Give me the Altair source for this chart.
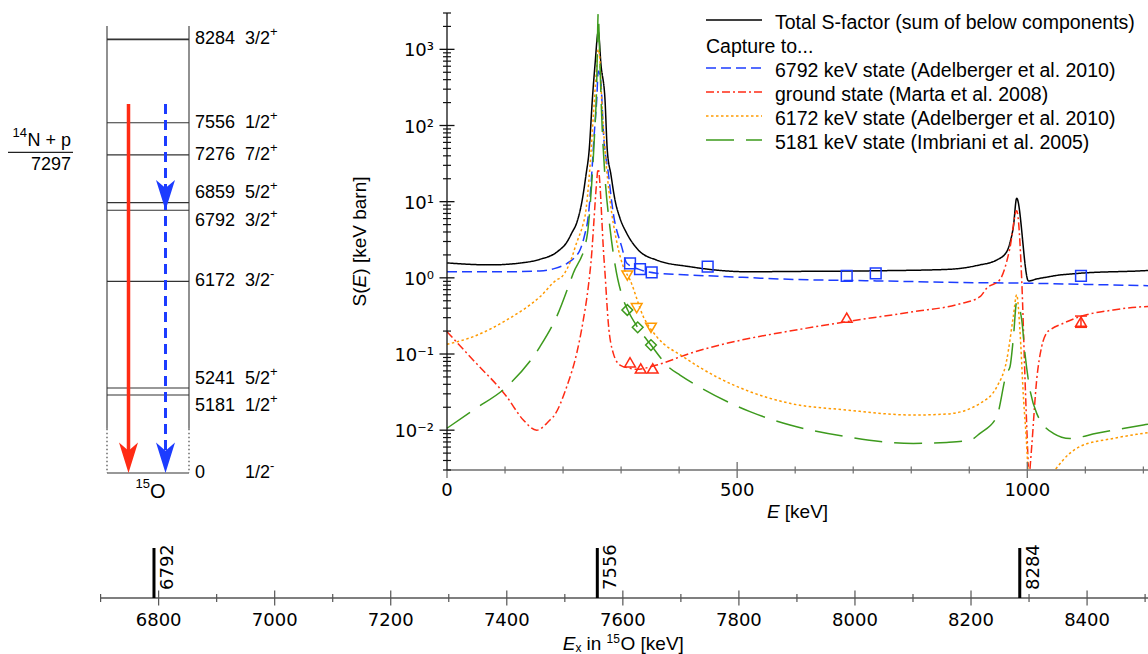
import altair as alt
import pandas as pd

# ------------------------------------------------------------------ data
# S-factor curves: E [keV], S [keV barn].
# None marks a break (zero crossing of an interference term).
series_keys = ["total", "c6792", "c0", "c6172", "c5181"]
series_colors = ["#000000", "#1c3cff", "#ff2b14", "#ff9a00", "#3d9a1d"]
series_dash = [[1, 0], [10, 5], [8, 3, 2, 3], [2.5, 2.5], [28, 12]]

total_E = [0, 74, 131, 160, 190, 207, 215, 224, 233, 239.5, 245, 250.4, 255, 260.7,
           265.4, 272.3, 276.2, 282.6, 289.5, 298, 309.7, 329.7, 361.4, 418.7, 522,
           574, 746, 861, 884, 918.5, 941, 947, 964.5, 970, 976, 981.7, 1002, 1016,
           1033, 1056, 1073.6, 1091, 1200, 1208]
total_S = [1.57, 1.48, 1.58, 1.75, 2.20, 2.98, 3.88, 5.41, 10.5, 22.4, 47.6, 216, 622, 1704,
           622, 216, 47.6, 22.4, 10.5, 6.1, 3.85, 2.32, 1.71, 1.40, 1.20,
           1.21, 1.24, 1.29, 1.33, 1.48, 1.63, 1.71, 2.20, 2.87, 4.69, 11.1, 0.91, 0.966,
           1.02, 1.09, 1.12, 1.15, 1.24, 1.25]

c6792_E = [0, 100, 160, 186, 207, 220, 229, 237, 243.5, 248, 253.8, 258, 260.6, 263, 265.4,
           269.3, 278, 286.6, 301, 310, 330, 361, 419, 522, 574, 746, 918.5, 1000, 1100, 1208]
c6792_S = [1.20, 1.20, 1.23, 1.33, 1.55, 1.85, 2.3, 3.6, 6.5, 16, 79, 216, 520, 480, 358,
           87, 23.6, 7.0, 2.57, 1.55, 1.30, 1.15, 1.09, 1.005, 0.966, 0.91, 0.863, 0.85, 0.82, 0.79]

c0_E = [0, 45.3, 102.9, 131.5, 154.6, 177.5, 183.2, 206.3, 223.5, 234.9, 243.5, 249.4, 253.3,
        257, 260.6, 264, 266.6, 269.3, 272.3, 278, 286.6, 298.1, 315.4, 326.9, 361.4, 418.7,
        522.1, 573.8, 688.8, 803.5, 886, 918.5, 930, 953, 970, 981.7, 990.4, 996.1, 1001.7,
        None, 1004.6, 1007.6, 1016.2, 1024.8, 1033.4, 1039.1, 1062, 1090.8, 1148.2, 1200, 1208]
c0_S = [0.196, 0.083, 0.0275, 0.0136, 0.0100, 0.0136, 0.015, 0.0372, 0.102, 0.28, 0.766, 2.10,
        5.74, 15, 27, 15, 6.3, 2.5, 1.15, 0.253, 0.102, 0.0717, 0.0649, 0.063, 0.0717, 0.102,
        0.161, 0.19, 0.266, 0.359, 0.46, 0.565, 0.73, 0.95, 2.45, 7.6, 0.94, 0.046, 0.0033,
        None, 0.0031, 0.0061, 0.046, 0.125, 0.19, 0.207, 0.253, 0.31, 0.378, 0.418, 0.42]

c6172_E = [0, 45.3, 102.9, 160.3, 189, 197.7, 217.6, 220.6, 234.9, 237.8, 246.4, 252.1, 258,
           260.6, 263, 266.6, 272.3, 280.9, 292.4, 303.8, 315.4, 338.3, 361.4, 407.2, 464.8,
           522.1, 591, 688.8, 803.5, 861, 918.5, 947.3, 964.5, 975.9, 981.7, 987.4, 993, 999.5,
           1001, None, 1049, 1073.6, 1090.8, 1148.2, 1200, 1208]
c6172_S = [0.134, 0.169, 0.28, 0.565, 0.94, 1.03, 2.1, 2.5, 5.2, 6.4, 29, 131, 590,
           1000, 800, 216, 47.6, 10.5, 3.0, 1.4, 0.94, 0.31, 0.169, 0.092, 0.05,
           0.032, 0.0225, 0.0184, 0.0158, 0.0163, 0.0225, 0.037, 0.083, 0.31, 0.6, 0.2, 0.03, 0.0053,
           0.0031, None, 0.0031, 0.005, 0.0061, 0.0078, 0.0091, 0.0093]

c5181_E = [0, 45.3, 102.9, 160.3, 189, 217.6, 240.7, 249.4, 253.8, 258, 260.6, 263, 266.6,
           272.3, 280.9, 289.5, 303.8, 311.4, 328.6, 351.5, 384.3, 401.5, 522.1, 591.1, 688.8,
           803.5, 861.1, 901.3, 918.5, 947.3, 964.5, 970.2, 975.9, 981.7, 990.4, 996.1, 1001.7,
           1016.2, 1044.8, 1073.6, 1119.6, 1200, 1208]
c5181_S = [0.0106, 0.0184, 0.0372, 0.125, 0.31, 1.148, 3.3, 17.4, 65, 358, 2990, 900, 131,
           21, 4.5, 1.5, 0.52, 0.378, 0.224, 0.131, 0.065, 0.053, 0.0175, 0.0117, 0.0082,
           0.0067, 0.0069, 0.0074, 0.0091, 0.015, 0.056, 0.068, 0.16, 0.48, 0.28, 0.1, 0.046,
           0.0166, 0.0091, 0.0078, 0.0091, 0.0117, 0.012]

# measured points
p6792_E = [315.4, 332.6, 352.7, 449.2, 688.8, 738.8, 1092.5]
p6792_S = [1.55, 1.30, 1.18, 1.40, 1.06, 1.148, 1.06]
p6172_E = [310.7, 326.9, 351.5]
p6172_S = [1.07, 0.40, 0.221]
p5181_E = [310.7, 328.6, 351.5]
p5181_S = [0.378, 0.224, 0.131]
p0_E = [315.4, 333.8, 354.5, 688.8, 1092.5]
p0_S = [0.0778, 0.0646, 0.0646, 0.30, 0.266]
err_E = [1092.5]
err_lo = [0.224]
err_hi = [0.315]

# legend
legend_keys = ["total", "c6792", "c0", "c6172", "c5181"]
legend_texts = ["Total S-factor (sum of below components)",
                "6792 keV state (Adelberger et al. 2010)",
                "ground state (Marta et al. 2008)",
                "6172 keV state (Adelberger et al. 2010)",
                "5181 keV state (Imbriani et al. 2005)"]
legend_rows = [0, 2, 3, 4, 5]

# main axes
x_major = [0, 500, 1000]
x_minor = [100, 200, 300, 400, 600, 700, 800, 900, 1100, 1200]
y_major = [0.01, 0.1, 1, 10, 100, 1000]
y_major_labels = ["10\u207b\u00b2", "10\u207b\u00b9", "10\u2070", "10\u00b9", "10\u00b2", "10\u00b3"]
y_minor = [m * 10.0 ** d for d in range(-3, 4) for m in range(2, 10)
           if 0.003 <= m * 10.0 ** d <= 3000]

# level scheme of 15O
level_E = [8284, 7556, 7276, 6859, 6792, 6172, 5241, 5181, 0]
level_J = ["3/2", "1/2", "7/2", "5/2", "3/2", "3/2", "5/2", "1/2", "1/2"]
level_P = ["+", "+", "+", "+", "+", "-", "+", "+", "-"]
threshold_E = 7297
arrow_from_E = 7720
red_arrow_to = [0]
blue_arrow_to = [6792, 0]

# excitation-energy axis
ex_major = [6800, 7000, 7200, 7400, 7600, 7800, 8000, 8200, 8400]
ex_minor = [6700, 6900, 7100, 7300, 7500, 7700, 7900, 8100, 8300, 8500]
ex_marks = [6792, 7556, 8284]

# ------------------------------------------------------------------ tables
curve_rows = []
for key, Es, Ss in zip(series_keys,
                       [total_E, c6792_E, c0_E, c6172_E, c5181_E],
                       [total_S, c6792_S, c0_S, c6172_S, c5181_S]):
    assert len(Es) == len(Ss), key
    seg = 0
    for e, s in zip(Es, Ss):
        if e is None:
            seg += 1
            continue
        curve_rows.append({"series": key, "seg": f"{key}-{seg}", "E": e, "S": s})
curves = pd.DataFrame(curve_rows)

pt_rows = []
for key, Es, Ss in [("c6792", p6792_E, p6792_S), ("c6172", p6172_E, p6172_S),
                    ("c5181", p5181_E, p5181_S), ("c0", p0_E, p0_S)]:
    for e, s in zip(Es, Ss):
        pt_rows.append({"series": key, "E": e, "S": s})
points = pd.DataFrame(pt_rows)
err = pd.DataFrame({"E": err_E, "lo": err_lo, "hi": err_hi})

one = pd.DataFrame({"k": [0]})

GROUND_DRAWN_AT = 4500  # broken axis: ground state drawn below 5181
levels = pd.DataFrame({"E": level_E, "J": level_J, "P": level_P})
levels["Ey"] = [e if e > 0 else GROUND_DRAWN_AT for e in level_E]
levels["lab"] = [str(e) for e in level_E]
red_heads = pd.DataFrame({"Ey": [e if e > 0 else GROUND_DRAWN_AT for e in red_arrow_to]})
blue_heads = pd.DataFrame({"Ey": [e if e > 0 else GROUND_DRAWN_AT for e in blue_arrow_to]})

# ------------------------------------------------------------------ scales
XM = alt.Scale(domain=[0, 1208], range=[447, 1148], nice=False, zero=False)
YM = alt.Scale(type="log", domain=[0.003, 3000], range=[470, 13], nice=False)
YL = alt.Scale(domain=[4500, 8400], range=[473, 26], nice=False, zero=False)
XB = alt.Scale(domain=[6700, 8505], range=[100.6, 1148], nice=False, zero=False)
YR = alt.Scale(domain=[0, 5], range=[20, 140], nice=False, zero=False)
COLOR = alt.Scale(domain=series_keys, range=series_colors)
DASH = alt.Scale(domain=series_keys, range=series_dash)

RED = "#ff2b14"
BLUE = "#1c3cff"
SANS = "Liberation Sans"
DV = "DejaVu Sans"


def xm(f):
    return alt.X(f, type="quantitative", scale=XM, axis=None)


def ym(f):
    return alt.Y(f, type="quantitative", scale=YM, axis=None)


def xmd(v):
    return alt.XDatum(v, type="quantitative", scale=XM, axis=None)


def ymd(v):
    return alt.YDatum(v, type="quantitative", scale=YM, axis=None)


def yl(f):
    return alt.Y(f, type="quantitative", scale=YL, axis=None)


def yld(v):
    return alt.YDatum(v, type="quantitative", scale=YL, axis=None)


def xb(f):
    return alt.X(f, type="quantitative", scale=XB, axis=None)


# ------------------------------------------------------------------ main plot
lines = alt.Chart(curves).mark_line(strokeWidth=1.5, interpolate="monotone").encode(
    x=xm("E"), y=ym("S"),
    color=alt.Color("series:N", scale=COLOR, legend=None),
    strokeDash=alt.StrokeDash("series:N", scale=DASH, legend=None),
    detail="seg:N",
)
markers = alt.Chart(points).mark_point(filled=False, size=115, strokeWidth=1.5, opacity=1).encode(
    x=xm("E"), y=ym("S"),
    color=alt.Color("series:N", scale=COLOR, legend=None),
    shape=alt.Shape("series:N", scale=alt.Scale(domain=["c6792", "c6172", "c5181", "c0"],
                                                range=["square", "triangle-down", "diamond", "triangle-up"]),
                    legend=None),
)
err_rule = alt.Chart(err).mark_rule(color=RED, strokeWidth=1.5).encode(
    x=xm("E"), y=ym("lo"), y2="hi")
err_caps = alt.Chart(err).transform_fold(["lo", "hi"], as_=["k", "v"]).mark_tick(
    orient="horizontal", size=12, thickness=1.5, color=RED, opacity=1).encode(x=xm("E"), y=ym("v"))

x_line = alt.Chart(one).mark_rule(color="#6e6e6e", strokeWidth=1.3).encode(
    x=xmd(0), x2=alt.X2Datum(1208), y=ymd(0.003))
y_line = alt.Chart(one).mark_rule(color="#111111", strokeWidth=1.3).encode(
    x=xmd(0), y=ymd(0.003), y2=alt.Y2Datum(3000))
xmaj_df = pd.DataFrame({"v": x_major})
xmin_df = pd.DataFrame({"v": x_minor})
ymaj_df = pd.DataFrame({"v": y_major, "lab": y_major_labels})
ymin_df = pd.DataFrame({"v": y_minor})
x_maj_ticks = alt.Chart(xmaj_df).mark_tick(orient="vertical", size=16, thickness=1.3,
                                           color="#6e6e6e", opacity=1).encode(x=xm("v"), y=ymd(0.003))
x_min_ticks = alt.Chart(xmin_df).mark_tick(orient="vertical", size=7, thickness=1.2,
                                           color="#6e6e6e", opacity=1).encode(x=xm("v"), y=ymd(0.003))
x_labels = alt.Chart(xmaj_df).mark_text(font=DV, fontSize=18, baseline="middle", dy=21,
                                        color="black").encode(x=xm("v"), y=ymd(0.003), text="v:Q")
y_maj_ticks = alt.Chart(ymaj_df).mark_tick(orient="horizontal", size=15, thickness=1.3,
                                           color="#111111", opacity=1).encode(x=xmd(0), y=ym("v"))
y_min_ticks = alt.Chart(ymin_df).mark_tick(orient="horizontal", size=8, thickness=1.2,
                                           color="#111111", opacity=1).encode(x=xmd(0), y=ym("v"))
y_labels = alt.Chart(ymaj_df).mark_text(font=DV, fontSize=18, baseline="middle", align="right",
                                        dx=-13, dy=2, color="black").encode(x=xmd(0), y=ym("v"), text="lab:N")

main = alt.layer(lines, markers, err_rule, err_caps, x_line, y_line, x_maj_ticks, x_min_ticks,
                 x_labels, y_maj_ticks, y_min_ticks, y_labels)

# ------------------------------------------------------------------ legend
leg = pd.DataFrame({"series": legend_keys, "label": legend_texts, "row": legend_rows})
leg_lines = alt.Chart(leg).mark_rule(strokeWidth=1.5).encode(
    x=alt.value(706), x2=alt.value(762),
    y=alt.Y("row:Q", scale=YR, axis=None),
    color=alt.Color("series:N", scale=COLOR, legend=None),
    strokeDash=alt.StrokeDash("series:N", scale=DASH, legend=None),
)
leg_text = alt.Chart(leg).mark_text(align="left", baseline="middle", dy=3, font=SANS,
                                    fontSize=19.5, color="black").encode(
    x=alt.value(775), y=alt.Y("row:Q", scale=YR, axis=None), text="label:N")
leg_capture = alt.Chart(one).mark_text(align="left", baseline="middle", dy=3, font=SANS,
                                       fontSize=19.5, color="black", text="Capture to...").encode(
    x=alt.value(706), y=alt.YDatum(1, type="quantitative", scale=YR, axis=None))
legend = alt.layer(leg_lines, leg_text, leg_capture)

# ------------------------------------------------------------------ level scheme
BOX_L, BOX_R = 107, 189
box_sides = []
for bx in (BOX_L, BOX_R):
    box_sides.append(alt.Chart(one).mark_rule(color="#555555", strokeWidth=1.3).encode(
        x=alt.value(bx), y=yld(8400), y2=alt.Y2Datum(4885)))
    box_sides.append(alt.Chart(one).mark_rule(color="#555555", strokeWidth=1.3,
                                              strokeDash=[1.5, 2.5]).encode(
        x=alt.value(bx), y=yld(4885), y2=alt.Y2Datum(GROUND_DRAWN_AT)))
level_lines = alt.Chart(levels).mark_rule(color="#333333").encode(
    x=alt.value(BOX_L), x2=alt.value(BOX_R), y=yl("Ey"),
    strokeWidth=alt.condition("datum.E == 8284", alt.value(1.8), alt.value(1.1)),
)
threshold = alt.Chart(one).mark_rule(color="#222222", strokeWidth=1.2).encode(
    x=alt.value(8), x2=alt.value(73), y=yld(threshold_E))
thr_text1 = alt.Chart(one).mark_text(align="right", baseline="middle", dy=-11, font=SANS,
                                     fontSize=18, text="N + p", color="black").encode(
    x=alt.value(71), y=yld(threshold_E))
thr_text1s = alt.Chart(one).mark_text(align="right", baseline="middle", dy=-19, font=SANS,
                                      fontSize=13, text="14", color="black").encode(
    x=alt.value(27), y=yld(threshold_E))
thr_text2 = alt.Chart(one).mark_text(align="right", baseline="middle", dy=13, font=SANS,
                                     fontSize=18, text=str(threshold_E), color="black").encode(
    x=alt.value(71), y=yld(threshold_E))
o15_a = alt.Chart(one).mark_text(align="left", baseline="middle", dy=19, font=SANS,
                                 fontSize=20, text="O", color="black").encode(
    x=alt.value(150), y=yld(GROUND_DRAWN_AT))
o15_b = alt.Chart(one).mark_text(align="right", baseline="middle", dy=11, font=SANS,
                                 fontSize=13, text="15", color="black").encode(
    x=alt.value(150), y=yld(GROUND_DRAWN_AT))

nudge_up = [6859, 5241]
nudge_down = [6792, 5181]


def level_text(field, x, dy, subset, size=18, extra=0):
    base = alt.Chart(levels)
    if subset == "up":
        base = base.transform_filter(alt.FieldOneOfPredicate(field="E", oneOf=nudge_up))
    elif subset == "down":
        base = base.transform_filter(alt.FieldOneOfPredicate(field="E", oneOf=nudge_down))
    else:
        base = base.transform_filter(
            alt.LogicalNotPredicate(**{"not": alt.FieldOneOfPredicate(field="E", oneOf=nudge_up + nudge_down)}))
    return base.mark_text(align="left", baseline="middle", dy=dy + extra, font=SANS,
                          fontSize=size, color="black").encode(
        x=alt.value(x), y=yl("Ey"), text=f"{field}:N")


level_texts = []
for subset, dy in (("none", 0), ("up", -9.5), ("down", 11)):
    level_texts.append(level_text("lab", 195, dy, subset))
    level_texts.append(level_text("J", 245, dy, subset))
    level_texts.append(level_text("P", 270, dy, subset, size=13, extra=-7))

red_shaft = alt.Chart(one).mark_rule(color=RED, strokeWidth=3.5).encode(
    x=alt.value(128.5), y=yld(arrow_from_E), y2=alt.Y2Datum(4620))
blue_shaft = alt.Chart(one).mark_rule(color=BLUE, strokeWidth=3, strokeDash=[10, 6]).encode(
    x=alt.value(165.5), y=yld(arrow_from_E), y2=alt.Y2Datum(4620))
HEAD = "M0,1.6 L-1,-1.6 L0,-0.75 L1,-1.6 Z"
red_head = alt.Chart(red_heads).mark_point(shape=HEAD, filled=True, size=361, opacity=1,
                                           yOffset=-15.2, color=RED).encode(
    x=alt.value(128.5), y=yl("Ey"))
blue_head = alt.Chart(blue_heads).mark_point(shape=HEAD, filled=True, size=361, opacity=1,
                                             yOffset=-15.2, color=BLUE).encode(
    x=alt.value(165.5), y=yl("Ey"))

level = alt.layer(*box_sides, level_lines, threshold, thr_text1, thr_text1s, thr_text2,
                  o15_a, o15_b, *level_texts, red_shaft, blue_shaft, red_head, blue_head)

# ------------------------------------------------------------------ Ex axis
AX_Y = 598
exmaj_df = pd.DataFrame({"v": ex_major})
exmin_df = pd.DataFrame({"v": ex_minor})
exm_df = pd.DataFrame({"v": ex_marks})
ex_line = alt.Chart(one).mark_rule(color="#555555", strokeWidth=1.3).encode(
    x=alt.XDatum(6700, type="quantitative", scale=XB, axis=None), x2=alt.X2Datum(8505),
    y=alt.value(AX_Y))
ex_maj = alt.Chart(exmaj_df).mark_tick(orient="vertical", size=15, thickness=1.2,
                                       color="#555555", opacity=1).encode(x=xb("v"), y=alt.value(AX_Y))
ex_min = alt.Chart(exmin_df).mark_tick(orient="vertical", size=8, thickness=1.2,
                                       color="#555555", opacity=1).encode(x=xb("v"), y=alt.value(AX_Y))
ex_lab = alt.Chart(exmaj_df).mark_text(font=DV, fontSize=18, baseline="middle", dy=23,
                                       color="black").encode(x=xb("v"), y=alt.value(AX_Y), text="v:Q")
ex_bars = alt.Chart(exm_df).mark_rule(color="black", strokeWidth=3).encode(
    x=xb("v"), y=alt.value(548), y2=alt.value(AX_Y))
ex_bar_lab = alt.Chart(exm_df).mark_text(font=DV, fontSize=18, angle=270, align="left",
                                         baseline="middle", dx=8, dy=14, color="black").encode(
    x=xb("v"), y=alt.value(AX_Y), text="v:Q")
bottom = alt.layer(ex_line, ex_maj, ex_min, ex_lab, ex_bars, ex_bar_lab)


# ------------------------------------------------------------------ titles
def note(txt, x, y, size=19, style="normal", angle=0, align="left"):
    kw = dict(text=txt, font=SANS, fontSize=size, fontStyle=style, align=align,
              baseline="middle", color="black")
    if angle:
        kw["angle"] = angle
    return alt.Chart(one).mark_text(**kw).encode(x=alt.value(x), y=alt.value(y))


titles = [
    note("E", 766.9, 512, style="italic"),
    note("[keV]", 784.8, 512),
    note("S(", 360, 306.4, angle=270),
    note("E", 360, 287.4, style="italic", angle=270),
    note(") [keV barn]", 360, 274.7, angle=270),
    note("E", 562.7, 643.5, style="italic"),
    note("x", 575.4, 647.5, size=12),
    note("in", 586.5, 643.5),
    note("15", 606.5, 638.5, size=12),
    note("O [keV]", 620.5, 643.5),
]

chart = alt.layer(main, legend, level, bottom, *titles).resolve_scale(
    x="independent", y="independent"
).properties(
    width=1148, height=654, autosize=alt.AutoSizeParams(type="none"), padding=0,
    background="white",
).configure_view(stroke="transparent")

chart.save("out.html", embed_options={"renderer": "svg", "actions": False})
